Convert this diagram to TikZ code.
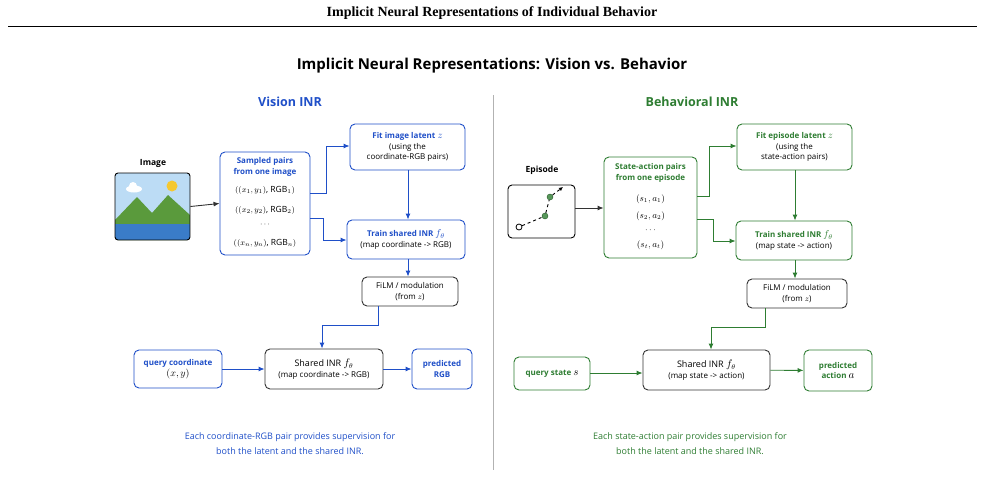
\documentclass[tikz,border=0pt]{standalone}
\usepackage{fontspec}
\setsansfont{Open Sans}
\setmainfont{Liberation Serif}
\usetikzlibrary{arrows.meta}
\definecolor{vb}{HTML}{1F4FC8}
\definecolor{bg}{HTML}{2E7D32}
\definecolor{dk}{HTML}{333333}
\definecolor{sky}{HTML}{BCDCF5}
\definecolor{mnt}{HTML}{5A9A3C}
\definecolor{wat}{HTML}{3A7CC8}
\definecolor{sun}{HTML}{F5C830}
\begin{document}
\begin{tikzpicture}[x=1pt,y=-1pt,
 box/.style={draw,rounded corners=5pt,line width=0.9pt,fill=white,align=center,font=\sffamily\fontsize{8}{10.5}\selectfont,inner sep=0pt},
 arr/.style={-{Latex[length=6pt,width=5pt]},line width=0.9pt},
 lbl/.style={font=\sffamily\bfseries\fontsize{8.5}{10}\selectfont}]
\useasboundingbox (0,0) rectangle (985,479);
\node[font=\rmfamily\bfseries\fontsize{14}{16}\selectfont] (hdr) at (492,13) {Implicit Neural Representations of Individual Behavior};
\draw[line width=1pt] (8,26) -- (977,26);
\node[font=\sffamily\bfseries\fontsize{15}{17}\selectfont] (ttl) at (492,66) {Implicit Neural Representations: Vision vs. Behavior};
\draw[gray!60,line width=0.8pt] (493,95) -- (493,470);
% ---------- Vision
\node[font=\sffamily\bfseries\fontsize{12.5}{14}\selectfont,text=vb] (vt) at (290,102) {Vision INR};
\node[lbl] (imgl) at (153,163) {Image};
\begin{scope}
\clip[rounded corners=3pt] (115,173) rectangle (190,240);
\fill[sky] (115,173) rectangle (190,240);
\fill[mnt] (115,220) -- (137,197) -- (152,213) -- (168,195) -- (190,215) -- (190,240) -- (115,240) -- cycle;
\fill[wat] (115,224) rectangle (190,240);
\fill[white] (134,189) ellipse (8 and 3.5);
\fill[white] (133,186) circle (4);
\fill[sun] (172,186) circle (5.5);
\end{scope}
\node[draw,line width=0.9pt,rounded corners=3pt,minimum width=75pt,minimum height=67pt] (img) at (152.5,206.5) {};
\node[box,draw=vb,minimum width=90pt,minimum height=103pt] (sp) at (265,203.5) {};
\node[align=center,text=vb,font=\sffamily\bfseries\fontsize{8}{11}\selectfont] (spt) at (265,167) {Sampled pairs\\from one image};
\node[font=\sffamily\fontsize{8.5}{9}\selectfont] (r1) at (265,190) {$((x_1,y_1)$, RGB$_1)$};
\node[font=\sffamily\fontsize{8.5}{9}\selectfont] (r2) at (265,210) {$((x_2,y_2)$, RGB$_2)$};
\node[font=\sffamily\fontsize{8.5}{9}\selectfont] (r3) at (265,225) {$\cdots$};
\node[font=\sffamily\fontsize{8.5}{9}\selectfont] (r4) at (265,243) {$((x_n,y_n)$, RGB$_n)$};
\node[box,draw=vb,minimum width=115pt,minimum height=46pt] (fit) at (407.5,147) {\textcolor{vb}{\bfseries Fit image latent \fontsize{10}{10}\selectfont$z$}\\ (using the\\coordinate-RGB pairs)};
\node[box,draw=vb,minimum width=118pt,minimum height=39pt] (tr) at (406,239.5) {\textcolor{vb}{\bfseries Train shared INR \fontsize{10}{10}\selectfont$f_\theta$}\\(map coordinate -> RGB)};
\node[box,draw=dk,minimum width=96pt,minimum height=29pt] (film) at (410,291.5) {FiLM / modulation\\(from $z$)};
\node[box,draw=dk,minimum width=118pt,minimum height=40pt] (sh) at (324,369) {\fontsize{9}{11}\selectfont Shared INR \fontsize{10.5}{11}\selectfont$f_\theta$\\(map coordinate -> RGB)};
\node[box,draw=vb,minimum width=88pt,minimum height=38pt] (q) at (178,369) {\textcolor{vb}{\bfseries query coordinate}\\\fontsize{10}{12}\selectfont$(x,y)$};
\node[box,draw=vb,minimum width=60pt,minimum height=40pt] (pr) at (442,369) {\textcolor{vb}{\bfseries predicted}\\\textcolor{vb}{\bfseries RGB}};
\draw[arr,dk] (img.east) -- (sp.west);
\draw[arr,vb] (sp.east |- 0,193) -| (326,146) -- (fit.west |- 0,146);
\draw[arr,vb] (sp.east |- 0,218) -| (323,240) -- (tr.west |- 0,240);
\draw[arr,vb] (fit.south -| 408,0) -- (tr.north -| 408,0);
\draw[arr,vb] (tr.south -| 408,0) -- (film.north -| 408,0);
\draw[arr,vb] (film.south -| 378,0) -- (378,325) -| (sh.north -| 322,0);
\draw[arr,vb] (q) -- (sh);
\draw[arr,vb] (sh) -- (pr);
\node[align=center,text=vb,font=\sffamily\fontsize{9}{15}\selectfont] (vc) at (290,444) {Each coordinate-RGB pair provides supervision for\\both the latent and the shared INR.};
% ---------- Behavior
\node[font=\sffamily\bfseries\fontsize{12.5}{14}\selectfont,text=bg] (bt) at (692,102) {Behavioral INR};
\node[lbl] (epl) at (542,170) {Episode};
\node[draw,line width=0.9pt,rounded corners=4pt,minimum width=67pt,minimum height=53pt] (ep) at (541.5,211.5) {};
\node[circle,draw,fill=white,inner sep=0pt,minimum size=6pt,line width=0.8pt] (c0) at (519,227) {};
\node[circle,draw=bg!70!black,fill=bg!80,inner sep=0pt,minimum size=6pt] (c1) at (545,216) {};
\node[circle,draw=bg!70!black,fill=bg!80,inner sep=0pt,minimum size=6pt] (c2) at (550,197) {};
\coordinate (ce) at (563,187);
\draw[dashed,line width=0.9pt] (c0) -- (c1);
\draw[dashed,line width=0.9pt] (c1) -- (c2);
\draw[dashed,line width=0.9pt,-{Latex[length=4pt,width=4pt]}] (c2) -- (ce);
\node[box,draw=bg,minimum width=93pt,minimum height=101pt] (sa) at (650.5,207.5) {};
\node[align=center,text=bg,font=\sffamily\bfseries\fontsize{8}{11}\selectfont] (sat) at (650.5,173) {State-action pairs\\from one episode};
\node[font=\fontsize{9}{9}\selectfont] (s1) at (650.5,199) {$(s_1,a_1)$};
\node[font=\fontsize{9}{9}\selectfont] (s2) at (650.5,216) {$(s_2,a_2)$};
\node[font=\fontsize{9}{9}\selectfont] (s3) at (650.5,230) {$\cdots$};
\node[font=\fontsize{9}{9}\selectfont] (s4) at (650.5,245) {$(s_t,a_t)$};
\node[box,draw=bg,minimum width=115pt,minimum height=46pt] (fit2) at (794.5,147) {\textcolor{bg}{\bfseries Fit episode latent \fontsize{10}{10}\selectfont$z$}\\ (using the\\state-action pairs)};
\node[box,draw=bg,minimum width=116pt,minimum height=39pt] (tr2) at (794,240.5) {\textcolor{bg}{\bfseries Train shared INR \fontsize{10}{10}\selectfont$f_\theta$}\\(map state -> action)};
\node[box,draw=dk,minimum width=100pt,minimum height=29pt] (film2) at (797,293.5) {FiLM / modulation\\(from $z$)};
\node[box,draw=dk,minimum width=127pt,minimum height=40pt] (sh2) at (706.5,370) {\fontsize{9}{11}\selectfont Shared INR \fontsize{10.5}{11}\selectfont$f_\theta$\\(map state -> action)};
\node[box,draw=bg,minimum width=76pt,minimum height=33pt] (q2) at (552,373.5) {\textcolor{bg}{\bfseries query state} \fontsize{11}{11}\selectfont$s$};
\node[box,draw=bg,minimum width=68pt,minimum height=41pt] (pr2) at (838,370.5) {\textcolor{bg}{\bfseries predicted}\\\textcolor{bg}{\bfseries action} \fontsize{11}{11}\selectfont$a$};
\draw[arr,dk] (ep.east |- 0,208) -- (sa.west |- 0,208);
\draw[arr,bg] (sa.east |- 0,196) -| (709,146) -- (fit2.west |- 0,146);
\draw[arr,bg] (sa.east |- 0,219) -| (713,241) -- (tr2.west |- 0,241);
\draw[arr,bg] (fit2.south -| 795,0) -- (tr2.north -| 795,0);
\draw[arr,bg] (tr2.south -| 795,0) -- (film2.north -| 795,0);
\draw[arr,bg] (film2.south -| 765,0) -- (765,327) -| (sh2.north -| 711,0);
\draw[arr,bg] (q2.east |- 0,373) -- (sh2.west |- 0,373);
\draw[arr,bg] (sh2) -- (pr2);
\node[align=center,text=bg,font=\sffamily\fontsize{9}{15}\selectfont] (bc) at (690,444) {Each state-action pair provides supervision for\\both the latent and the shared INR.};
\end{tikzpicture}
\end{document}
